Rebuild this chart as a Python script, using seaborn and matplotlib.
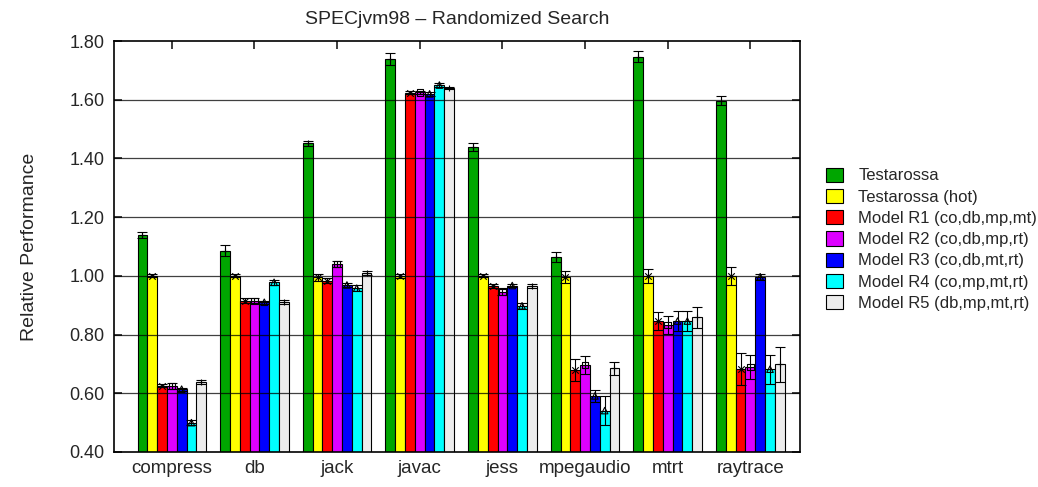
import numpy as np
import pandas as pd
import seaborn as sns
import matplotlib
matplotlib.use("Agg")
import matplotlib.pyplot as plt
from matplotlib.patches import Patch

benchmarks = ["compress", "db", "jack", "javac", "jess", "mpegaudio", "mtrt", "raytrace"]
series = ["Testarossa", "Testarossa (hot)", "Model R1 (co,db,mp,mt)", "Model R2 (co,db,mp,rt)",
          "Model R3 (co,db,mt,rt)", "Model R4 (co,mp,mt,rt)", "Model R5 (db,mp,mt,rt)"]

testarossa     = [1.139, 1.086, 1.452, 1.738, 1.440, 1.065, 1.747, 1.597]
testarossa_hot = [1.000, 1.000, 0.995, 1.000, 1.000, 0.997, 1.000, 1.000]
model_r1       = [0.625, 0.915, 0.984, 1.624, 0.966, 0.680, 0.847, 0.682]
model_r2       = [0.625, 0.915, 1.040, 1.625, 0.946, 0.697, 0.833, 0.689]
model_r3       = [0.614, 0.910, 0.969, 1.620, 0.967, 0.591, 0.846, 0.997]
model_r4       = [0.500, 0.978, 0.958, 1.650, 0.898, 0.541, 0.846, 0.682]
model_r5       = [0.638, 0.912, 1.011, 1.640, 0.966, 0.685, 0.859, 0.699]

err_testarossa     = [0.010, 0.018, 0.008, 0.020, 0.013, 0.017, 0.020, 0.015]
err_testarossa_hot = [0.005, 0.005, 0.012, 0.006, 0.005, 0.020, 0.025, 0.030]
err_model_r1       = [0.005, 0.008, 0.008, 0.006, 0.006, 0.038, 0.030, 0.055]
err_model_r2       = [0.010, 0.008, 0.010, 0.006, 0.010, 0.030, 0.030, 0.040]
err_model_r3       = [0.005, 0.006, 0.008, 0.006, 0.006, 0.020, 0.035, 0.010]
err_model_r4       = [0.008, 0.008, 0.010, 0.008, 0.010, 0.050, 0.035, 0.050]
err_model_r5       = [0.007, 0.007, 0.007, 0.005, 0.006, 0.023, 0.035, 0.060]

values = [testarossa, testarossa_hot, model_r1, model_r2, model_r3, model_r4, model_r5]
errors = [err_testarossa, err_testarossa_hot, err_model_r1, err_model_r2, err_model_r3,
          err_model_r4, err_model_r5]
colors = ["#00a600", "#ffff00", "#ff0000", "#dd00ff", "#0000ff", "#00ffff", "#ececec"]
markers = ["+", "x", "x", "s", "^", "^", "+"]

rows = []
for s, vals, errs in zip(series, values, errors):
    for b, v, e in zip(benchmarks, vals, errs):
        rows.append({"bench": b, "model": s, "value": v, "err": e})
df = pd.DataFrame(rows)

sns.set_theme(style="white")
plt.rcParams["font.family"] = ["Liberation Sans", "DejaVu Sans"]

fig = plt.figure(figsize=(10.38, 4.87), dpi=100)
ax = fig.add_axes([0.1098, 0.0719, 0.6609, 0.8439])

sns.barplot(data=df, x="bench", y="value", hue="model", order=benchmarks, hue_order=series,
            palette=colors, saturation=1, width=0.83, edgecolor="black", linewidth=0.8,
            errorbar=None, legend=False, ax=ax, zorder=2)

for cont, s, errs, m in zip(ax.containers, series, errors, markers):
    xs = [p.get_x() + p.get_width() / 2 for p in cont.patches]
    hs = [p.get_height() for p in cont.patches]
    ax.errorbar(xs, hs, yerr=errs, fmt="none", ecolor="black", elinewidth=0.8,
                capsize=3.5, capthick=0.8, zorder=4)
    ax.scatter(xs, hs, marker=m, s=22, facecolors="none" if m in ("s", "^") else "black",
               edgecolors="black", linewidths=0.8, zorder=5)

yt = np.arange(0.4, 1.81, 0.2)
ax.set_ylim(0.40, 1.80)
ax.set_yticks(yt)
ax.set_yticklabels([f"{t:.2f}" for t in yt], fontsize=13)
ax.set_xlim(-0.7, 7.6)
ax.set_xlabel("")
ax.set_ylabel("Relative Performance", fontsize=14, labelpad=22)
ax.tick_params(axis="x", labelsize=13.5, direction="in", top=True, bottom=False, length=6, pad=6)
ax.tick_params(axis="y", direction="in", left=True, right=True, length=6, pad=7)
for y in np.arange(0.6, 1.79, 0.2):
    ax.axhline(y, color="black", linewidth=0.9, alpha=0.75, zorder=3)
for sp in ax.spines.values():
    sp.set_color("black")
    sp.set_linewidth(1.2)
    sp.set_zorder(6)

ax.set_title("SPECjvm98 \u2013 Randomized Search", fontsize=14, pad=12)

handles = [Patch(facecolor=c, edgecolor="black", linewidth=0.8) for c in colors]
fig.legend(handles, series, loc="upper left", bbox_to_anchor=(0.785, 0.68), frameon=False,
           fontsize=12, handlelength=1.0, handleheight=0.95, handletextpad=0.9,
           labelspacing=0.32, borderpad=0.2)

fig.savefig("out.png", dpi=100)
